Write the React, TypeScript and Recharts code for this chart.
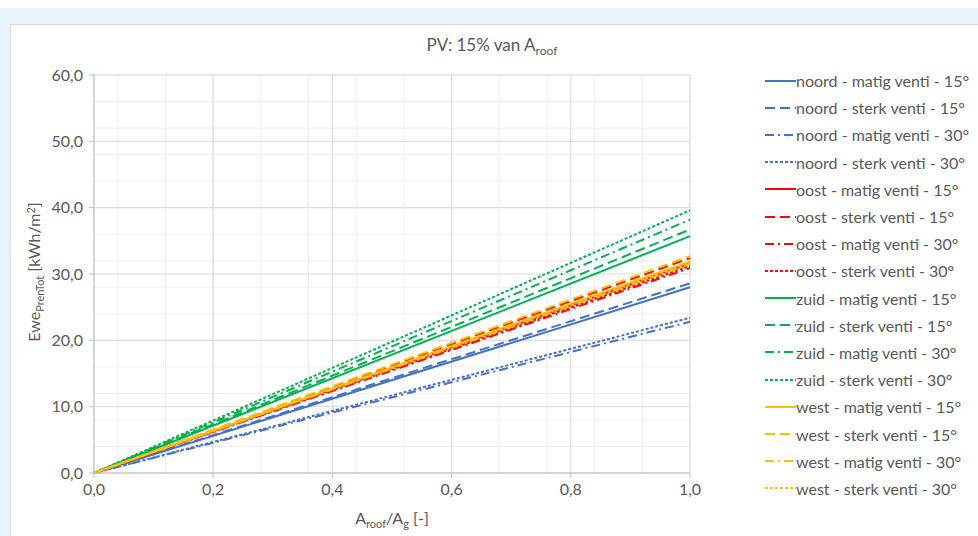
import React from "react"
import { LineChart, Line, XAxis, YAxis, CartesianGrid } from "recharts"

// x positions (A_roof/A_g) — the curves are straight lines from the origin
const xValues = [0, 1.0]

// Ewe_PrenTot values [kWh/m²] at each x
const noordMatig15 = [0, 28.0]
const noordSterk15 = [0, 28.6]
const noordMatig30 = [0, 22.8]
const noordSterk30 = [0, 23.4]
const oostMatig15 = [0, 31.6]
const oostSterk15 = [0, 32.4]
const oostMatig30 = [0, 30.9]
const oostSterk30 = [0, 31.2]
const zuidMatig15 = [0, 35.7]
const zuidSterk15 = [0, 36.7]
const zuidMatig30 = [0, 38.2]
const zuidSterk30 = [0, 39.6]
const westMatig15 = [0, 31.9]
const westSterk15 = [0, 32.7]
const westMatig30 = [0, 31.5]
const westSterk30 = [0, 31.7]

const xTicks = [0, 0.2, 0.4, 0.6, 0.8, 1.0]
const yTicks = [0, 10, 20, 30, 40, 50, 60]

const BLUE = "#4472C4"
const RED = "#FF0000"
const GREEN = "#00B050"
const ORANGE = "#FFC000"

const SOLID = undefined
const DASH = "10 5"
const DASHDOT = "9 4 2 4"
const DOT = "3 2"

const series = [
  { key: "nm15", name: "noord - matig venti - 15°", values: noordMatig15, color: BLUE, dash: SOLID },
  { key: "ns15", name: "noord - sterk venti - 15°", values: noordSterk15, color: BLUE, dash: DASH },
  { key: "nm30", name: "noord - matig venti - 30°", values: noordMatig30, color: BLUE, dash: DASHDOT },
  { key: "ns30", name: "noord - sterk venti - 30°", values: noordSterk30, color: BLUE, dash: DOT },
  { key: "om15", name: "oost - matig venti - 15°", values: oostMatig15, color: RED, dash: SOLID },
  { key: "os15", name: "oost - sterk venti - 15°", values: oostSterk15, color: RED, dash: DASH },
  { key: "om30", name: "oost - matig venti - 30°", values: oostMatig30, color: RED, dash: DASHDOT },
  { key: "os30", name: "oost - sterk venti - 30°", values: oostSterk30, color: RED, dash: DOT },
  { key: "zm15", name: "zuid - matig venti - 15°", values: zuidMatig15, color: GREEN, dash: SOLID },
  { key: "zs15", name: "zuid - sterk venti - 15°", values: zuidSterk15, color: GREEN, dash: DASH },
  { key: "zm30", name: "zuid - matig venti - 30°", values: zuidMatig30, color: GREEN, dash: DASHDOT },
  { key: "zs30", name: "zuid - sterk venti - 30°", values: zuidSterk30, color: GREEN, dash: DOT },
  { key: "wm15", name: "west - matig venti - 15°", values: westMatig15, color: ORANGE, dash: SOLID },
  { key: "ws15", name: "west - sterk venti - 15°", values: westSterk15, color: ORANGE, dash: DASH },
  { key: "wm30", name: "west - matig venti - 30°", values: westMatig30, color: ORANGE, dash: DASHDOT },
  { key: "ws30", name: "west - sterk venti - 30°", values: westSterk30, color: ORANGE, dash: DOT },
]

const data = xValues.map((x, i) => {
  const row: Record<string, number> = { x }
  series.forEach(s => { row[s.key] = s.values[i] })
  return row
})

// minor grid: 0.04 steps on x, 2 steps on y
const minorX = Array.from({ length: 26 }, (_, i) => Math.round(i * 4) / 100)
const minorY = Array.from({ length: 31 }, (_, i) => i * 2)

const FONT = "Lato, 'Open Sans', sans-serif"
const TEXT = "#595959"
const fmt = (v: number) => v.toFixed(1).replace(".", ",")

function LegendList() {
  return (
    <div style={{ position: "absolute", left: 765, top: 67, fontFamily: FONT, fontSize: 16, color: TEXT }}>
      {series.map(s => (
        <div key={s.key} style={{ display: "flex", alignItems: "center", height: 27.2 }}>
          <svg width={31} height={10} style={{ flex: "none" }}>
            <line x1={0} y1={5} x2={31} y2={5} stroke={s.color} strokeWidth={2} strokeDasharray={s.dash} />
          </svg>
          <span style={{ whiteSpace: "nowrap" }}>{s.name}</span>
        </div>
      ))}
    </div>
  )
}

export default function App() {
  return (
    <div style={{ position: "absolute", left: 0, top: 0, width: 978, height: 536, background: "#fff", overflow: "hidden" }}>
      <div style={{ position: "absolute", left: 0, top: 8, width: 978, height: 528, background: "#E7F2FB" }} />
      <div style={{ position: "absolute", left: 10, top: 24, width: 980, height: 520, background: "#fff", border: "1px solid #DADADA" }} />
      <div style={{ position: "absolute", left: 0, top: 0 }}>
        <LineChart width={978} height={536} data={data} margin={{ top: 75, right: 288, bottom: 33, left: 40 }}>
          <CartesianGrid stroke="#EEEEEE" horizontalValues={minorY} verticalValues={minorX} />
          <CartesianGrid stroke="#D9D9D9" horizontalValues={yTicks} verticalValues={xTicks} />
          <XAxis
            dataKey="x"
            type="number"
            domain={[0, 1]}
            ticks={xTicks}
            tickFormatter={fmt}
            height={30}
            stroke="#BFBFBF"
            tickSize={5}
            tick={{ fill: TEXT, fontSize: 16, fontFamily: FONT }}
            tickMargin={6}
          />
          <YAxis
            type="number"
            domain={[0, 60]}
            ticks={yTicks}
            tickFormatter={fmt}
            width={54}
            stroke="#BFBFBF"
            tickSize={5}
            tick={{ fill: TEXT, fontSize: 16, fontFamily: FONT }}
            tickMargin={6}
          />
          {series.map(s => (
            <Line
              key={s.key}
              dataKey={s.key}
              name={s.name}
              type="linear"
              stroke={s.color}
              strokeWidth={2}
              strokeDasharray={s.dash}
              dot={false}
              activeDot={false}
              isAnimationActive={false}
            />
          ))}
        </LineChart>
      </div>
      <LegendList />
      <svg width={978} height={536} style={{ position: "absolute", left: 0, top: 0, pointerEvents: "none" }}>
        <text x={492} y={51} textAnchor="middle" fontFamily={FONT} fontSize={17} fill={TEXT}>
          PV: 15% van A<tspan fontSize={12} dy={4}>roof</tspan>
        </text>
        <text
          x={0}
          y={0}
          transform="translate(40 272) rotate(-90)"
          textAnchor="middle"
          fontFamily={FONT}
          fontSize={16}
          fill={TEXT}
        >
          Ewe<tspan fontSize={11} dy={4}>PrenTot</tspan>
          <tspan dy={-4}> [kWh/m</tspan>
          <tspan fontSize={11} dy={-5}>2</tspan>
          <tspan dy={5}>]</tspan>
        </text>
        <text x={392} y={524} textAnchor="middle" fontFamily={FONT} fontSize={16} fill={TEXT}>
          A<tspan fontSize={11} dy={4}>roof</tspan>
          <tspan dy={-4}>/A</tspan>
          <tspan fontSize={11} dy={4}>g</tspan>
          <tspan dy={-4}> [-]</tspan>
        </text>
      </svg>
    </div>
  )
}
